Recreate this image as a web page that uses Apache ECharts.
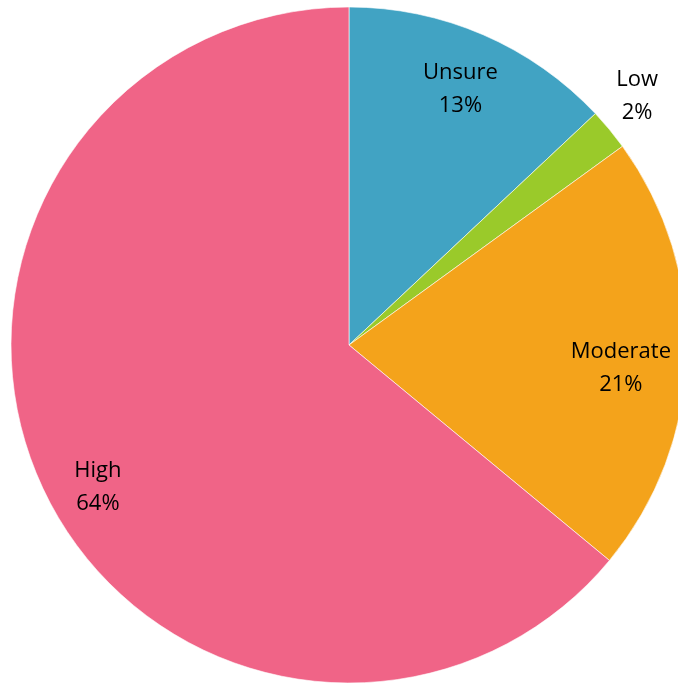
<!DOCTYPE html>
<html>
<head>
<meta charset="utf-8">
<script src="https://cdn.jsdelivr.net/npm/echarts@6/dist/echarts.min.js"></script>
<style>
  html, body { margin: 0; padding: 0; background: #fff; }
  #chart { width: 678px; height: 683px; }
</style>
</head>
<body>
<div id="chart"></div>
<script>
// Responses by level of concern
const categories = ['Unsure', 'Low', 'Moderate', 'High'];
const shares = [13, 2, 21, 64];
const colors = ['#41A3C3', '#9ACA2A', '#F4A31B', '#F06487'];

// Per-slice nudges for the text labels (pixels)
const labelOffsets = [[-1, 4], [70, -68], [-11, 14], [5, 22]];

const center = [349, 345];
const outerR = 338;

const sliceData = categories.map((name, i) => ({
  name,
  value: shares[i],
  itemStyle: { color: colors[i] }
}));

const labelData = categories.map((name, i) => ({
  name,
  value: shares[i],
  label: { offset: labelOffsets[i] }
}));

const chart = echarts.init(document.getElementById('chart'), null, { renderer: 'canvas' });
chart.setOption({
  animation: false,
  backgroundColor: '#ffffff',
  series: [
    {
      type: 'pie',
      center: center,
      radius: [0, outerR],
      startAngle: 90,
      clockwise: true,
      silent: true,
      label: { show: false },
      labelLine: { show: false },
      itemStyle: { borderColor: '#ffffff', borderWidth: 0.6 },
      data: sliceData
    },
    {
      // transparent ring that only carries the labels
      type: 'pie',
      center: center,
      radius: [222, outerR],
      startAngle: 90,
      clockwise: true,
      silent: true,
      itemStyle: { color: 'rgba(0,0,0,0)' },
      labelLine: { show: false },
      label: {
        show: true,
        position: 'inside',
        formatter: '{b}\n{d}%',
        fontFamily: '"Open Sans", sans-serif',
        fontSize: 22,
        lineHeight: 33,
        color: '#000000',
        align: 'center'
      },
      data: labelData
    }
  ]
});
</script>
</body>
</html>
